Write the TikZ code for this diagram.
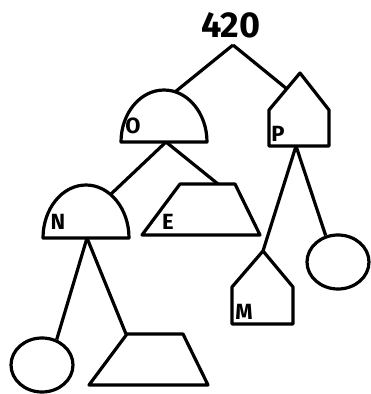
\documentclass[tikz,border=0pt]{standalone}
\usepackage{fontspec}
\setmainfont{Fira Sans}
\usetikzlibrary{shapes.geometric}

\begin{document}
\begin{tikzpicture}[
        x=1pt, y=1pt,
        outline/.style={draw, line width=3.2pt, line join=round},
        link/.style={line width=3.2pt},
        lbl/.style={font=\fontsize{22}{22}\selectfont\bfseries, inner sep=0pt},
        blob/.style={outline, ellipse, minimum width=62pt, minimum height=54pt, inner sep=0pt}
      ]
    \useasboundingbox (0,0) rectangle (370,394);

    % root
    \node[font=\fontsize{36}{36}\selectfont\bfseries, inner sep=0pt] (root) at (231,369) {420};
    \coordinate (rootpt) at (233,349);

    % O dome
    \draw[outline] (207,252) arc[start angle=0, end angle=180, x radius=43, y radius=52] -- cycle;
    \node[lbl] (olbl) at (133,268) {O};
    \coordinate (otop) at (175,302);
    \coordinate (obase) at (166,252);

    % P house
    \draw[outline] (269,248) -- (269,284) -- (300,321) -- (329,284) -- (329,248) -- cycle;
    \node[lbl] (plbl) at (278,260) {P};
    \coordinate (proof) at (287,305);
    \coordinate (pbase) at (296,248);

    % N dome
    \draw[outline] (129,156) arc[start angle=0, end angle=180, x radius=43, y radius=53] -- cycle;
    \node[lbl] (nlbl) at (58,172) {N};
    \coordinate (ntop) at (110,199);
    \coordinate (nbase) at (87,156);

    % E trapezoid
    \draw[outline] (142,159) -- (180,210) -- (235,210) -- (260,159) -- cycle;
    \node[lbl] (elbl) at (168,172) {E};
    \coordinate (etop) at (218,210);

    % M house
    \draw[outline] (232,70) -- (232,107) -- (263,143) -- (293,107) -- (293,70) -- cycle;
    \node[lbl] (mlbl) at (244,82) {M};
    \coordinate (mtop) at (263,143);

    % leaves
    \node[blob] (lcirc) at (42,29) {};
    \node[blob] (rcirc) at (338,132) {};
    \draw[outline] (89,9) -- (127,60) -- (183,60) -- (208,9) -- cycle;
    \coordinate (ttop) at (126,60);

    % edges
    \draw[link] (rootpt) -- (otop);
    \draw[link] (rootpt) -- (proof);
    \draw[link] (obase) -- (ntop);
    \draw[link] (obase) -- (etop);
    \draw[link] (nbase) -- (lcirc.60);
    \draw[link] (nbase) -- (ttop);
    \draw[link] (pbase) -- (mtop);
    \draw[link] (pbase) -- (rcirc.115);

    \end{tikzpicture}
\end{document}
